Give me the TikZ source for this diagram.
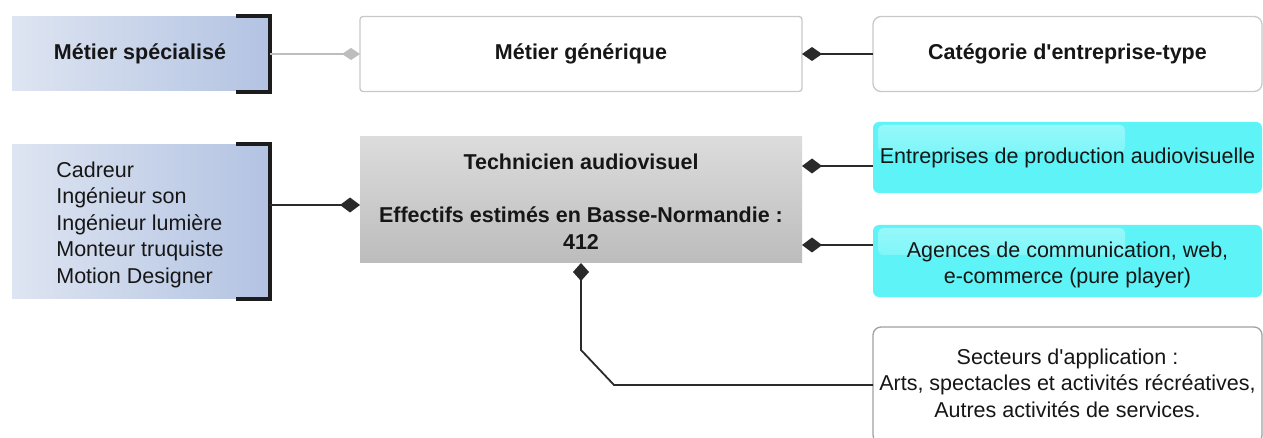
\documentclass[tikz,border=0pt]{standalone}
\usepackage{fontspec}
\setmainfont{Liberation Sans}
\usetikzlibrary{arrows.meta,calc}
\definecolor{txt}{HTML}{161616}
\definecolor{blueL}{HTML}{DEE5F2}
\definecolor{blueR}{HTML}{B3C3E2}
\definecolor{grayT}{HTML}{DCDCDC}
\definecolor{grayB}{HTML}{BCBCBC}
\definecolor{cyanF}{HTML}{5EF3F6}
\definecolor{cyanH}{HTML}{98F8FA}
\definecolor{boxline}{HTML}{C8C8C8}
\definecolor{sectline}{HTML}{A0A0A0}
\definecolor{connc}{HTML}{2A2A2A}
\definecolor{lightconn}{HTML}{BDBDBD}
\definecolor{brk}{HTML}{1C1C1C}
\newcommand\tstr[1]{\rule{0pt}{#1}}
\begin{document}
\begin{tikzpicture}[x=1pt,y=-1pt,
  base/.style={font=\fontsize{21.5}{26.5}\selectfont, text=txt, inner sep=0pt, align=center, outer sep=0pt},
  bold/.style={font=\fontsize{21.5}{26.5}\selectfont\bfseries},
  bluebox/.style={base, left color=blueL, right color=blueR, minimum width=256pt},
  whitebox/.style={base, fill=white, draw=boxline, line width=1.3pt},
  cyanbox/.style={base, fill=cyanF, rounded corners=6pt, minimum width=389pt,
    path picture={\shade[top color=cyanH, bottom color=cyanF, rounded corners=5pt]
      ([xshift=5pt,yshift=-3pt]path picture bounding box.north west) rectangle
      ([xshift=252pt,yshift=-30pt]path picture bounding box.north west);}},
  bracketline/.style={draw=brk, line width=3.5pt, line join=miter},
  conn/.style={draw=connc, line width=1.8pt},
  dia/.tip={Diamond[length=20pt,width=15pt]},
]
\useasboundingbox (0,0) rectangle (1263,438);
\fill[white] (0,0) rectangle (1263,438);
\clip (0,0) rectangle (1263,438);

% top row
\node[bluebox, bold, minimum height=74pt] (spec) at (140,54) {Métier spécialisé};
\draw[bracketline] ([xshift=-32pt,yshift=1pt]spec.north east) -- ([xshift=2pt,yshift=1pt]spec.north east)
  -- ([xshift=2pt,yshift=-1pt]spec.south east) -- ([xshift=-32pt,yshift=-1pt]spec.south east);
\node[whitebox, bold, rounded corners=3pt, minimum width=442pt, minimum height=75pt] (gen) at (581,54) {Métier générique};
\node[whitebox, bold, rounded corners=8pt, minimum width=389pt, minimum height=75pt] (cat) at (1067.5,54) {Catégorie d\textquotesingle entreprise-type};
\coordinate (b1) at ([xshift=2pt]spec.east);
\draw[draw=lightconn, line width=1.8pt, -{Diamond[length=18pt,width=12pt]}] (b1) -- (gen.west);
\draw[conn, {Diamond[length=20pt,width=14pt]}-] (gen.east) -- (cat.west);

% second row
\node[bluebox, align=left, minimum height=153pt] (list) at (140,221.5)
  {\tstr{21.5pt}Cadreur\\Ingénieur son\\Ingénieur lumière\\Monteur truquiste\\Motion Designer};
\draw[bracketline] ([xshift=-32pt,yshift=1pt]list.north east) -- ([xshift=2pt,yshift=1pt]list.north east)
  -- ([xshift=2pt,yshift=-1pt]list.south east) -- ([xshift=-32pt,yshift=-1pt]list.south east);
\node[base, bold, top color=grayT, bottom color=grayB, minimum width=442pt, minimum height=126pt] (tech) at (581,200)
  {\tstr{19.5pt}Technicien audiovisuel\\[26.5pt]Effectifs estimés en Basse-Normandie :\\412};
\coordinate (b2) at (270,205);
\draw[conn, -dia] (b2) -- (b2 -| tech.west);

\node[cyanbox, minimum height=71pt] (ent) at (1067.5,157.5) {Entreprises de production audiovisuelle};
\node[cyanbox, minimum height=72pt] (ag) at (1067.5,261) {\tstr{23.5pt}Agences de communication, web,\\e-commerce (pure player)};
\node[whitebox, draw=sectline, rounded corners=8pt, minimum width=389pt, minimum height=116pt] (sect) at (1067.5,385)
  {Secteurs d\textquotesingle application :\\Arts, spectacles et activités récréatives,\\Autres activités de services.\rule[-4pt]{0pt}{0pt}};

\coordinate (t1) at (802,166);
\coordinate (t2) at (802,245);
\draw[conn, dia-] (t1) -- (t1 -| ent.west);
\draw[conn, dia-] (t2) -- (t2 -| ag.west);
\draw[conn, {Diamond[length=18pt,width=16pt]}-] (tech.south) -- ++(0,87) -- ++(33,35) -- (sect.west);
\end{tikzpicture}
\end{document}
